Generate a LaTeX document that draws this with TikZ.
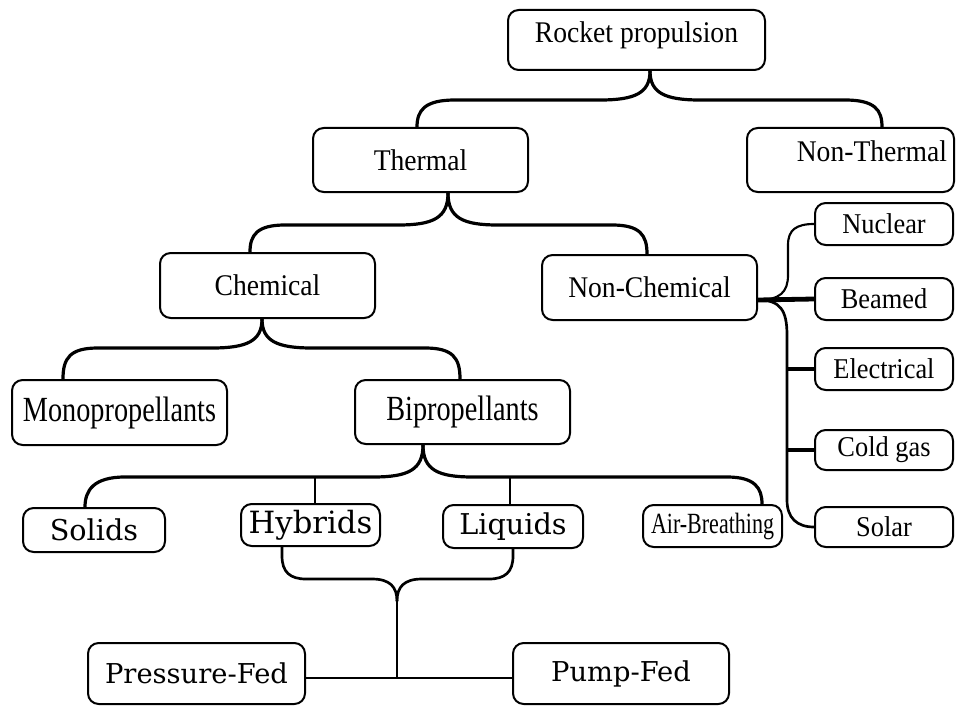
\documentclass[tikz,border=0pt]{standalone}
\usepackage{fontspec}
\setmainfont[FakeStretch=0.92]{Liberation Serif}
\newfontfamily\wideserif{DejaVu Serif}
\newfontfamily\narrowserif[FakeStretch=0.8]{Liberation Serif}
\newfontfamily\tightserif[FakeStretch=0.75]{Liberation Serif}
\usepackage{tikz}
\newlength{\pxu}
\setlength{\pxu}{0.75pt}
\newcommand{\setsz}[1]{\fontsize{#1}{#1}\selectfont}

\begin{document}
\begin{tikzpicture}[x=0.75pt,y=-0.75pt,
    every node/.style={font=\setsz{22.5}},
    box/.style={draw,line width=1.5pt,rounded corners=8pt,inner sep=0pt,align=center},
    side/.style={box,minimum width=138\pxu,minimum height=42\pxu,font=\setsz{21.5}},
    mid/.style={box,minimum height=43\pxu,font=\wideserif\setsz{21.5}},
    brace/.style={line width=2.4pt,line cap=round,line join=round},
    tick/.style={line width=1.4pt}]
  \fill[white] (0,0) rectangle (956,706);
  \useasboundingbox (0,0) rectangle (956,706);

  \node[box,text height=33\pxu,text depth=27\pxu,minimum width=257\pxu] (rp) at (636.5,40) {Rocket propulsion};
  \node[box,minimum width=215\pxu,minimum height=64\pxu] (th) at (420.5,160) {Thermal};
  \node[box,text height=33.5\pxu,text depth=30.5\pxu,text width=193\pxu,align=right,inner xsep=7\pxu] (nth) at (850.5,160) {Non-Thermal};
  \node[box,minimum width=215\pxu,minimum height=65\pxu] (ch) at (267.5,285.5) {Chemical};
  \node[box,minimum width=215\pxu,minimum height=65\pxu] (nch) at (649.5,287.5) {Non-Chemical};
  \node[box,minimum width=215\pxu,minimum height=65\pxu,font=\narrowserif\setsz{26.5}] (mono) at (119.5,412.5) {Monopropellants};
  \node[box,minimum width=215\pxu,minimum height=64\pxu,font=\narrowserif\setsz{26.5}] (bi) at (462.5,412) {Bipropellants};

  \node[mid,minimum width=142\pxu,minimum height=44\pxu] (sol) at (94,530) {Solids};
  \node[mid,minimum width=139\pxu,minimum height=42\pxu,font=\wideserif\setsz{23}] (hyb) at (310.5,525) {Hybrids};
  \node[mid,minimum width=140\pxu] (liq) at (513,526.5) {Liquids};
  \node[box,minimum width=139\pxu,minimum height=42\pxu,font=\tightserif\setsz{22}] (air) at (712.5,526) {Air-Breathing};
  \node[box,minimum width=217\pxu,minimum height=61\pxu,font=\wideserif\setsz{20.5}] (pres) at (196.5,673.5) {Pressure-Fed};
  \node[box,minimum width=216\pxu,minimum height=61\pxu,font=\wideserif\setsz{20.5}] (pump) at (621,673.5) {Pump-Fed};

  \node[side] (nuc) at (884,224) {Nuclear};
  \node[side] (bea) at (884,299) {Beamed};
  \node[side] (ele) at (884,369) {Electrical};
  \node[side,minimum height=40\pxu] (cold) at (884,450) {Cold gas};
  \node[side,minimum height=40\pxu] (slr) at (884,527) {Solar};

  % braces
  \draw[brace] (650,0 |- rp.south) .. controls (650,93) and (635,100) .. (600,100) -- (455,100) .. controls (425,100) and (417,110) .. (417,0 |- th.north);
  \draw[brace] (650,0 |- rp.south) .. controls (650,93) and (665,100) .. (700,100) -- (845,100) .. controls (875,100) and (882,110) .. (882,0 |- nth.north);
  \draw[brace] (448,0 |- th.south) .. controls (448,218) and (433,225) .. (398,225) -- (285,225) .. controls (257,225) and (250,235) .. (250,0 |- ch.north);
  \draw[brace] (448,0 |- th.south) .. controls (448,218) and (463,225) .. (498,225) -- (612,225) .. controls (640,225) and (647,235) .. (647,0 |- nch.north);
  \draw[brace] (262,0 |- ch.south) .. controls (262,341) and (247,348) .. (212,348) -- (98,348) .. controls (70,348) and (63,358) .. (63,0 |- mono.north);
  \draw[brace] (262,0 |- ch.south) .. controls (262,341) and (277,348) .. (312,348) -- (425,348) .. controls (453,348) and (460,358) .. (460,0 |- bi.north);
  \draw[brace] (423,0 |- bi.south) .. controls (423,470) and (408,477) .. (373,477) -- (125,477) .. controls (94,477) and (85,490) .. (85,0 |- sol.north);
  \draw[brace] (423,0 |- bi.south) .. controls (423,470) and (438,477) .. (473,477) -- (727,477) .. controls (755,477) and (762,488) .. (762,0 |- air.north);
  \draw[tick] (315,0 |- hyb.north) -- ++(0,-27);
  \draw[tick] (510,0 |- liq.north) -- ++(0,-28);

  % feed system
  \coordinate (fj) at (397,601);
  \coordinate (fb) at (397,678);
  \draw[brace,line width=2pt] (282,0 |- hyb.south) -- (282,556) .. controls (282,572) and (290,579) .. (306,579) -- (372,579) .. controls (390,579) and (397,587) .. (fj);
  \draw[brace,line width=2pt] (513,0 |- liq.south) -- (513,556) .. controls (513,572) and (505,579) .. (489,579) -- (422,579) .. controls (404,579) and (397,587) .. (fj);
  \draw[tick] (fj) -- (fb);
  \draw[tick] (pres.east |- fb) -- (pump.west |- fb);

  % non-chemical
  \coordinate (nj) at (758,300);
  \draw[line width=1.6pt] (nj) .. controls (780,300) and (788,292) .. (788,275) -- (788,245) .. controls (788,230) and (796,224) .. (nuc.west);
  \draw[line width=3.6pt] (nj) -- (bea.west);
  \draw[line width=2pt] (nj) .. controls (780,300) and (787,310) .. (787,335) -- (787,500) .. controls (787,518) and (797,527) .. (slr.west);
  \draw[line width=2.4pt] (787,0 |- ele.west) -- (ele.west);
  \draw[line width=3.2pt] (787,0 |- cold.west) -- (cold.west);
\end{tikzpicture}
\end{document}
